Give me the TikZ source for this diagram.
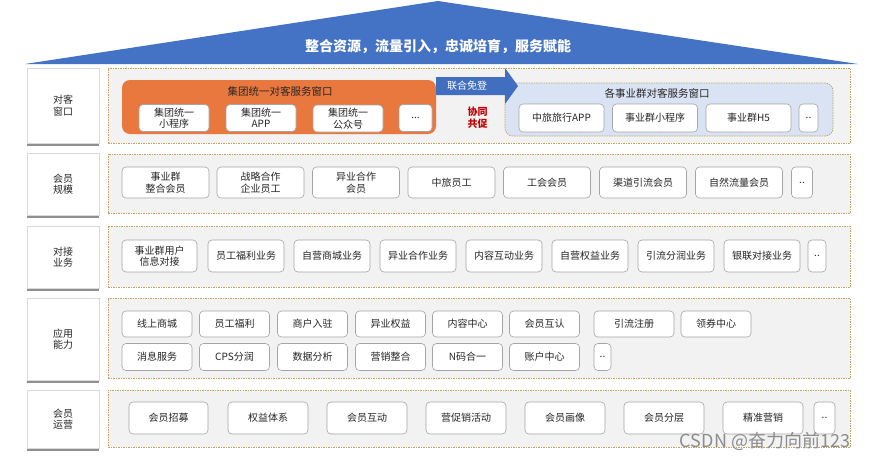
\documentclass[tikz,border=0pt]{standalone}
\usepackage{fontspec}
\setmainfont{Noto Sans CJK SC}
\usetikzlibrary{shadows}
\definecolor{roofblue}{RGB}{68,114,196}
\definecolor{arrowblue}{RGB}{65,110,190}
\definecolor{orangebox}{RGB}{232,120,62}
\definecolor{lightblue}{RGB}{218,227,243}
\definecolor{contgray}{RGB}{242,242,242}
\definecolor{dashgold}{RGB}{190,165,100}
\definecolor{itemline}{RGB}{165,165,165}
\definecolor{redtxt}{RGB}{192,0,0}
\definecolor{wmgray}{RGB}{140,140,140}
\tikzset{
  itm/.style={draw=itemline, line width=0.6pt, fill=white, rounded corners=4pt,
    align=center, inner sep=1pt, font=\fontsize{10}{11.5}\selectfont, text=black!85},
  lab/.style={draw=black!15, fill=white, align=center, minimum width=72pt,
    font=\fontsize{10}{11.5}\selectfont, text=black!85,
    drop shadow={shadow xshift=0pt, shadow yshift=-2.5pt, fill=black!55, opacity=0.8}},
  cont/.style={draw=dashgold, fill=contgray, line width=0.7pt,
    dash pattern=on 1.5pt off 1pt, minimum width=742pt},
  ttl/.style={font=\fontsize{10.5}{12}\selectfont, text=black!85},
}
\begin{document}
\begin{tikzpicture}[x=1pt,y=-1pt]
\useasboundingbox (0,0) rectangle (874,464);
\fill[white] (0,0) rectangle (874,464);
% roof
\fill[roofblue] (25,64) -- (438,1) -- (858,64) -- cycle;
\node[text=white, font=\fontsize{14}{16}\selectfont\bfseries] (roof) at (438,46) {整合资源，流量引入，忠诚培育，服务赋能};

% ---------- row 1
\node[lab, minimum height=75pt] (l1) at (63,105.5) {对客\\窗口};
\node[cont, minimum height=75pt] (c1) at (479,105.5) {};
\node[fill=orangebox, rounded corners=8pt, minimum width=314pt, minimum height=54pt] (org) at (279,107) {};
\node[ttl] (orgt) at (280,91) {集团统一对客服务窗口};
\node[itm, minimum width=70pt, minimum height=27pt] (g1) at (174,118) {集团统一\\小程序};
\node[itm, minimum width=70pt, minimum height=27pt] (g2) at (261,118) {集团统一\\APP};
\node[itm, minimum width=70pt, minimum height=27pt] (g3) at (348,118.5) {集团统一\\公众号};
\node[itm, minimum width=33pt, minimum height=27pt] (g4) at (415.5,118) {...};
\node[draw=dashgold, fill=lightblue, rounded corners=8pt, line width=0.7pt,
  dash pattern=on 1.5pt off 1pt, minimum width=328pt, minimum height=53pt] (blu) at (669,109.5) {};
\node[ttl] (blut) at (657,93) {各事业群对客服务窗口};
\node[itm, minimum width=85pt, minimum height=28pt] (b1) at (561.5,118) {中旅旅行APP};
\node[itm, minimum width=85pt, minimum height=28pt] (b2) at (655,118) {事业群小程序};
\node[itm, minimum width=85pt, minimum height=28pt] (b3) at (748.5,118) {事业群H5};
\node[itm, minimum width=19pt, minimum height=28pt] (b4) at (808.5,118) {..};
% arrow
\fill[arrowblue] (436,77) -- (505,77) -- (505,68) -- (518,86) -- (505,104) -- (505,95) -- (436,95) -- cycle;
\node[text=white, font=\fontsize{10}{11}\selectfont] (login) at (467,86) {联合免登};
\node[text=redtxt, align=center, font=\fontsize{10}{12}\selectfont\bfseries] (xt) at (477.5,117.5) {协同\\共促};

% ---------- row 2
\node[lab, minimum height=62pt] (l2) at (63,184) {会员\\规模};
\node[cont, minimum height=59pt] (c2) at (479,183.5) {};
\foreach \n/\x/\w/\t in {m1/165.5/87/{事业群\\整合会员}, m2/260.5/87/{战略合作\\企业员工}, m3/356/87/{异业合作\\会员},
  m4/451.5/87/中旅员工, m5/547/87/工会会员, m6/643/87/渠道引流会员, m7/739/87/自然流量会员, m8/802/21/..}
  \node[itm, minimum width=\w pt, minimum height=31pt] (\n) at (\x,182.5) {\t};

% ---------- row 3
\node[lab, minimum height=62pt] (l3) at (63,257) {对接\\业务};
\node[cont, minimum height=61pt] (c3) at (479,256.5) {};
\foreach \n/\x/\w/\t in {s1/159.5/75/{事业群用户\\信息对接}, s2/246/76/员工福利业务, s3/332/76/自营商城业务,
  s4/418/76/异业合作业务, s5/504/76/内容互动业务, s6/590/76/自营权益业务, s7/676/76/引流分润业务,
  s8/762/76/银联对接业务, s9/817/18/..}
  \node[itm, minimum width=\w pt, minimum height=32pt] (\n) at (\x,256) {\t};

% ---------- row 4
\node[lab, minimum height=82pt] (l4) at (63,339) {应用\\能力};
\node[cont, minimum height=80pt] (c4) at (479,338) {};
\foreach \n/\x/\w/\t in {a1/157/70/线上商城, a2/234.5/70/员工福利, a3/312.5/70/商户入驻, a4/390.5/70/异业权益,
  a5/467.5/70/内容中心, a6/544.5/70/会员互认, a7/634/80/引流注册, a8/716/70/领券中心}
  \node[itm, minimum width=\w pt, minimum height=26pt] (\n) at (\x,324) {\t};
\foreach \n/\x/\w/\t in {p1/157/70/消息服务, p2/234.5/70/CPS分润, p3/312.5/70/数据分析, p4/390.5/70/营销整合,
  p5/467.5/70/N码合一, p6/544.5/70/账户中心, p7/602.5/17/..}
  \node[itm, minimum width=\w pt, minimum height=27pt] (\n) at (\x,357) {\t};

% ---------- row 5
\node[lab, minimum height=58pt] (l5) at (63,419) {会员\\运营};
\node[cont, minimum height=57pt] (c5) at (479,418.5) {};
\foreach \n/\x/\w/\t in {o1/168.5/79/会员招募, o2/268/80/权益体系, o3/367/80/会员互动, o4/466/80/营促销活动,
  o5/565/80/会员画像, o6/664/80/会员分层, o7/763/80/精准营销, o8/824.5/21/..}
  \node[itm, minimum width=\w pt, minimum height=32pt] (\n) at (\x,418) {\t};

% watermark
\node[text=wmgray, font=\fontsize{18}{20}\selectfont] (wm) at (765,441) {CSDN @奋力向前123};
\end{tikzpicture}
\end{document}
